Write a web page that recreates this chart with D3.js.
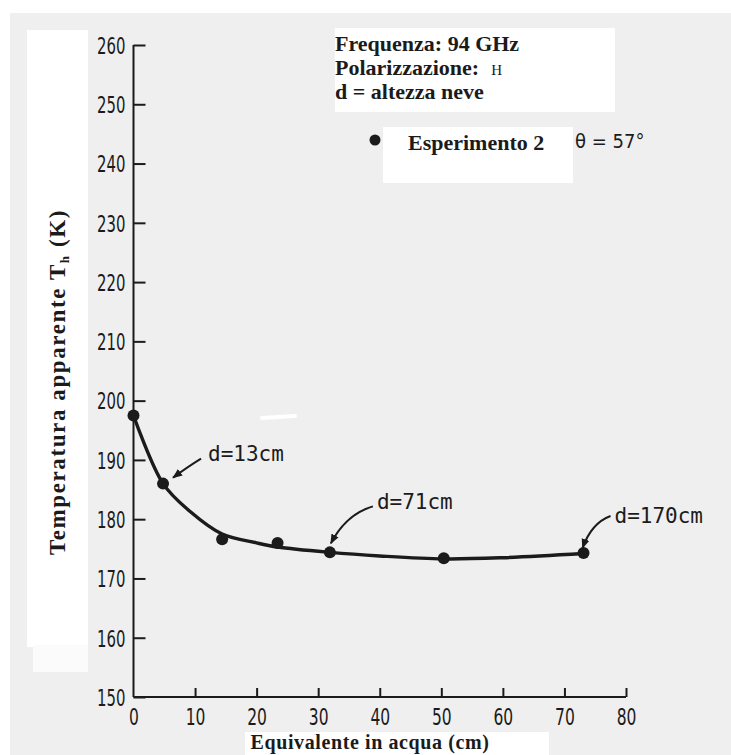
<!DOCTYPE html>
<html>
<head>
<meta charset="utf-8">
<script src="https://cdn.jsdelivr.net/npm/d3@7"></script>
<style>
  html, body { margin: 0; padding: 0; background: #ffffff; }
  svg { display: block; }
</style>
</head>
<body>
<svg id="chart" width="731" height="755"></svg>
<script>
// ---- data ----
const xTicks = [0, 10, 20, 30, 40, 50, 60, 70, 80];
const yTicks = [150, 160, 170, 180, 190, 200, 210, 220, 230, 240, 250, 260];
const pointX = [0, 4.8, 14.4, 23.4, 31.9, 50.4, 73.1];
const pointY = [197.5, 186.0, 176.6, 176.0, 174.4, 173.4, 174.3];
const curveX = [0, 4.8, 9.2, 14.4, 20, 23.4, 31.9, 40, 50.4, 60, 73.1];
const curveY = [197.5, 186.0, 181.3, 177.5, 176.0, 175.3, 174.4, 173.8, 173.3, 173.5, 174.2];
const annotLabels = ["d=13cm", "d=71cm", "d=170cm"];
const annotPoint = [1, 4, 6];
const infoLines = ["Frequenza: 94 GHz", "Polarizzazione:", "d = altezza neve"];
const legendLabel = "Esperimento 2";
const angleLabel = "θ = 57°";
const xTitle = "Equivalente in acqua (cm)";

// ---- layout ----
const svg = d3.select("#chart");
const x = d3.scaleLinear().domain([0, 80]).range([133.5, 626]);
const y = d3.scaleLinear().domain([150, 260]).range([697, 45]);
const ink = "#1b1b1b";

// background paper
svg.append("rect").attr("x", 0).attr("y", 0).attr("width", 731).attr("height", 755).attr("fill", "#ffffff");
svg.append("rect").attr("x", 10).attr("y", 13).attr("width", 721).attr("height", 742).attr("fill", "#efefef");
// pasted white patches
svg.append("rect").attr("x", 27).attr("y", 30).attr("width", 61).attr("height", 617).attr("fill", "#ffffff");
svg.append("rect").attr("x", 33).attr("y", 645).attr("width", 55).attr("height", 27).attr("fill", "#fbfbfb");
svg.append("rect").attr("x", 335).attr("y", 28).attr("width", 280).attr("height", 84).attr("fill", "#ffffff");
svg.append("rect").attr("x", 383).attr("y", 127).attr("width", 190).attr("height", 56).attr("fill", "#ffffff");
svg.append("rect").attr("x", 245).attr("y", 732).attr("width", 304).attr("height", 23).attr("fill", "#ffffff");
// scan highlight streak
svg.append("line").attr("x1", 262).attr("y1", 418).attr("x2", 295).attr("y2", 416)
  .attr("stroke", "#ffffff").attr("stroke-width", 4).attr("stroke-linecap", "round");

// ---- axes ----
const tickFont = "'DejaVu Sans Condensed', 'Liberation Sans Narrow', sans-serif";

const yAxis = d3.axisLeft(y).tickValues(yTicks).tickSize(0).tickPadding(0).tickFormat(d3.format("d"));
const gy = svg.append("g").attr("transform", `translate(${x(0)},0)`).call(yAxis);
gy.select(".domain").remove();
gy.selectAll("text").attr("font-family", tickFont).attr("font-size", 23).attr("fill", ink)
  .attr("x", 0).attr("dy", "0.36em").attr("transform", "translate(-8,0) scale(0.72,1)");
// inward ticks
gy.selectAll(".tick").append("line").attr("x1", 0).attr("x2", 12).attr("y1", 0).attr("y2", 0)
  .attr("stroke", ink).attr("stroke-width", 2);

const xAxis = d3.axisBottom(x).tickValues(xTicks).tickSize(0).tickPadding(12).tickFormat(d3.format("d"));
const gx = svg.append("g").attr("transform", `translate(0,${y(150)})`).call(xAxis);
gx.select(".domain").remove();
gx.selectAll("text").attr("font-family", tickFont).attr("font-size", 23).attr("fill", ink)
  .attr("transform", "scale(0.75,1)");
gx.selectAll(".tick").filter(d => d > 0).append("line").attr("x1", 0).attr("x2", 0).attr("y1", 0).attr("y2", -9)
  .attr("stroke", ink).attr("stroke-width", 2);

// axis lines
svg.append("line").attr("x1", x(0)).attr("x2", x(0)).attr("y1", y(260)).attr("y2", y(150))
  .attr("stroke", ink).attr("stroke-width", 2);
svg.append("line").attr("x1", x(0)).attr("x2", x(80)).attr("y1", y(150)).attr("y2", y(150))
  .attr("stroke", ink).attr("stroke-width", 2);

// axis titles
const serif = "'Liberation Serif', 'Times New Roman', serif";
const yt = svg.append("text").attr("transform", "translate(65,382) rotate(-90)")
  .attr("text-anchor", "middle").attr("font-family", serif).attr("font-weight", "bold")
  .attr("font-size", 23).attr("letter-spacing", 1.6).attr("fill", ink);
yt.append("tspan").text("Temperatura apparente T");
yt.append("tspan").attr("font-size", 13).attr("dy", 4).text("h");
yt.append("tspan").attr("dy", -4).text(" (K)");

svg.append("text").attr("x", 370).attr("y", 749).attr("text-anchor", "middle")
  .attr("font-family", serif).attr("font-weight", "bold").attr("font-size", 20).attr("fill", ink)
  .attr("letter-spacing", 0.6).text(xTitle);

// ---- curve and points ----
const curveData = curveX.map((d, i) => [d, curveY[i]]);
const line = d3.line().x(d => x(d[0])).y(d => y(d[1])).curve(d3.curveCatmullRom.alpha(0.5));
svg.append("path").datum(curveData).attr("d", line).attr("fill", "none")
  .attr("stroke", ink).attr("stroke-width", 3.4);

const pts = pointX.map((d, i) => ({ x: d, y: pointY[i] }));
svg.selectAll("circle.pt").data(pts).enter().append("circle").attr("class", "pt")
  .attr("cx", d => x(d.x)).attr("cy", d => y(d.y)).attr("r", 6).attr("fill", ink);

// ---- annotations ----
const mono = "'DejaVu Sans Mono', 'Liberation Mono', monospace";
const annotOffsets = [
  { tx: 45, ty: -23, sx: 38, sy: -25, ex: 10, ey: -6, cx: 25, cy: -17 },
  { tx: 47, ty: -43, sx: 43, sy: -46, ex: 1, ey: -9, cx: 16, cy: -38 },
  { tx: 31, ty: -30, sx: 27, sy: -37, ex: -1, ey: -5, cx: 8, cy: -30 }
];
svg.append("defs").append("marker").attr("id", "ah").attr("viewBox", "0 0 10 10")
  .attr("refX", 9).attr("refY", 5).attr("markerWidth", 5).attr("markerHeight", 5)
  .attr("orient", "auto").append("path").attr("d", "M0,1 L10,5 L0,9 Z").attr("fill", ink);

annotLabels.forEach((lab, i) => {
  const p = pts[annotPoint[i]];
  const px = x(p.x), py = y(p.y), o = annotOffsets[i];
  svg.append("path")
    .attr("d", `M${px + o.sx},${py + o.sy} Q${px + o.cx},${py + o.cy} ${px + o.ex},${py + o.ey}`)
    .attr("fill", "none").attr("stroke", ink).attr("stroke-width", 2).attr("marker-end", "url(#ah)");
  svg.append("text").attr("x", px + o.tx).attr("y", py + o.ty)
    .attr("font-family", mono).attr("font-size", 21).attr("letter-spacing", 0).attr("fill", ink).text(lab);
});

// ---- info box ----
const info = svg.append("g").attr("font-family", serif).attr("font-weight", "bold").attr("fill", ink);
info.append("text").attr("x", 335).attr("y", 51).attr("font-size", 22).text(infoLines[0]);
const pol = info.append("text").attr("x", 335).attr("y", 75).attr("font-size", 22);
pol.append("tspan").text(infoLines[1]);
pol.append("tspan").attr("font-size", 15).attr("font-weight", "normal").attr("dx", 12).text("H");
info.append("text").attr("x", 335).attr("y", 99).attr("font-size", 22).text(infoLines[2]);

// legend row
svg.append("circle").attr("cx", 375).attr("cy", 140).attr("r", 5.5).attr("fill", ink);
svg.append("text").attr("x", 408).attr("y", 150).attr("font-family", serif).attr("font-weight", "bold")
  .attr("font-size", 22).attr("fill", ink).text(legendLabel);
svg.append("text").attr("x", 575).attr("y", 148).attr("font-family", "'DejaVu Sans Condensed', 'DejaVu Sans', sans-serif")
  .attr("font-size", 20).attr("fill", ink).text(angleLabel);
</script>
</body>
</html>
